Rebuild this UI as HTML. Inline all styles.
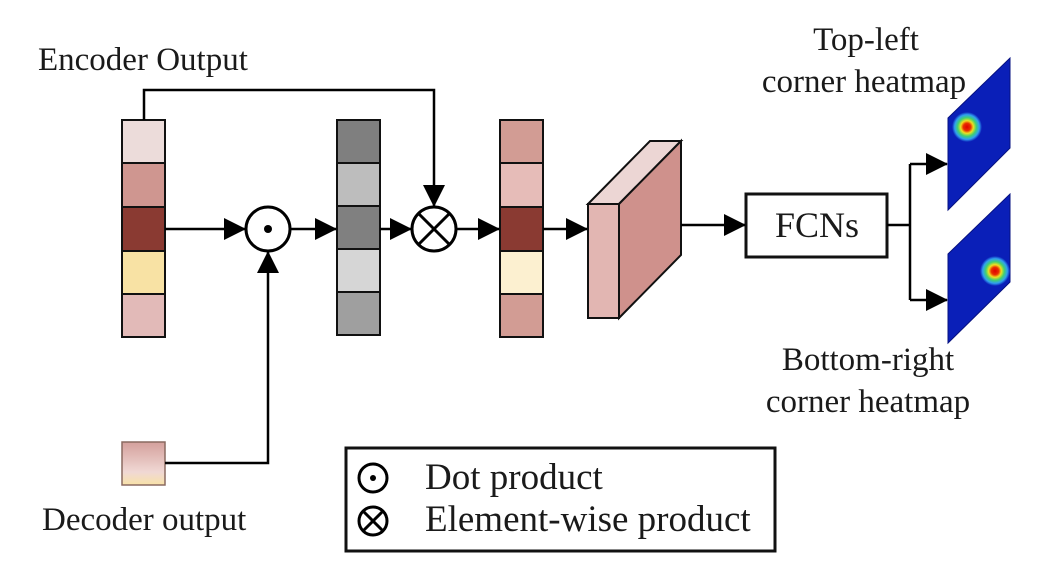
<!DOCTYPE html>
<html><head><meta charset="utf-8"><style>
html,body{margin:0;padding:0;background:#fff;width:1050px;height:570px;overflow:hidden}
text{font-family:"Liberation Serif",serif;fill:#1a1a1a}
</style></head><body>
<svg width="1050" height="570" viewBox="0 0 1050 570" xmlns="http://www.w3.org/2000/svg">
<defs>
<marker id="a" markerWidth="22" markerHeight="22" refX="21" refY="11" orient="auto" markerUnits="userSpaceOnUse" viewBox="0 0 22 22"><path d="M0,0 L22,11 L0,22z" fill="#000"/></marker>
<linearGradient id="dg" x1="0" y1="0" x2="0" y2="1"><stop offset="0" stop-color="#d4a09c"/><stop offset="0.7" stop-color="#f0d8d4"/><stop offset="1" stop-color="#f8e2a8"/></linearGradient>
<radialGradient id="blob"><stop offset="0" stop-color="#e00000"/><stop offset="0.25" stop-color="#e83000"/><stop offset="0.42" stop-color="#f0e020"/><stop offset="0.62" stop-color="#40d070"/><stop offset="0.82" stop-color="#30a0f0"/><stop offset="1" stop-color="#0a1fb8"/></radialGradient>
</defs>
<g stroke="#111" stroke-width="2">
<rect x="122" y="120" width="43" height="43" fill="#ecdcda"/>
<rect x="122" y="163" width="43" height="44" fill="#cf9690"/>
<rect x="122" y="207" width="43" height="44" fill="#8a3a32"/>
<rect x="122" y="251" width="43" height="43" fill="#f8e2a4"/>
<rect x="122" y="294" width="43" height="43" fill="#e2bab8"/>
<rect x="337" y="120" width="43" height="43" fill="#7f7f7f"/>
<rect x="337" y="163" width="43" height="43" fill="#bdbdbd"/>
<rect x="337" y="206" width="43" height="43" fill="#808080"/>
<rect x="337" y="249" width="43" height="43" fill="#d6d6d6"/>
<rect x="337" y="292" width="43" height="43" fill="#9f9f9f"/>
<rect x="500" y="120" width="43" height="43" fill="#d29c94"/>
<rect x="500" y="163" width="43" height="44" fill="#e6bcb8"/>
<rect x="500" y="207" width="43" height="44" fill="#8a3a32"/>
<rect x="500" y="251" width="43" height="43" fill="#fcf0d0"/>
<rect x="500" y="294" width="43" height="43" fill="#d29c94"/>
<polygon points="588,204 650,141 681,141 619,204" fill="#ecd6d4"/>
<polygon points="619,204 681,141 681,255 619,318" fill="#cf918c"/>
<rect x="588" y="204" width="31" height="114" fill="#e2b6b2"/>
<rect x="746" y="194" width="141" height="63" fill="#fff" stroke-width="3"/>
<rect x="346" y="448" width="429" height="103" fill="#fff" stroke-width="3"/>
<rect x="122" y="442" width="43" height="43" fill="url(#dg)" stroke="#8a6a60" stroke-width="1.5"/>
</g>
<g stroke="#000" stroke-width="2.5" fill="none">
<polyline points="144,120 144,90 434,90 434,206" marker-end="url(#a)"/>
<line x1="165" y1="229" x2="245" y2="229" marker-end="url(#a)"/>
<polyline points="165,463 268,463 268,252" marker-end="url(#a)"/>
<line x1="291" y1="229" x2="336" y2="229" marker-end="url(#a)"/>
<line x1="380" y1="229" x2="411" y2="229" marker-end="url(#a)"/>
<line x1="457" y1="229" x2="499" y2="229" marker-end="url(#a)"/>
<line x1="543" y1="229" x2="587" y2="229" marker-end="url(#a)"/>
<line x1="681" y1="225" x2="745" y2="225" marker-end="url(#a)"/>
<line x1="887" y1="225" x2="910" y2="225"/>
<polyline points="910,164 910,300"/>
<line x1="910" y1="164" x2="947" y2="164" marker-end="url(#a)"/>
<line x1="910" y1="300" x2="947" y2="300" marker-end="url(#a)"/>
<circle cx="268" cy="229" r="22" fill="#fff" stroke-width="3"/>
<circle cx="434" cy="229" r="22" fill="#fff" stroke-width="3"/>
<line x1="419" y1="214" x2="449" y2="244" stroke-width="3"/>
<line x1="449" y1="214" x2="419" y2="244" stroke-width="3"/>
<circle cx="373" cy="478" r="14" fill="#fff" stroke-width="3"/>
<circle cx="373" cy="521" r="14" fill="#fff" stroke-width="3"/>
<line x1="363" y1="511" x2="383" y2="531" stroke-width="3"/>
<line x1="383" y1="511" x2="363" y2="531" stroke-width="3"/>
</g>
<circle cx="268" cy="229" r="4" fill="#000"/>
<circle cx="373" cy="478" r="3" fill="#000"/>
<polygon points="948,118 1010,58 1010,148 948,210" fill="#0a1fb8" stroke="#061080" stroke-width="1"/>
<circle cx="967" cy="127" r="15" fill="url(#blob)"/>
<polygon points="948,254 1010,194 1010,282 948,343" fill="#0a1fb8" stroke="#061080" stroke-width="1"/>
<circle cx="995" cy="271" r="15" fill="url(#blob)"/>
<text x="38" y="70" font-size="33">Encoder Output</text>
<text x="817" y="237" font-size="36" text-anchor="middle">FCNs</text>
<text x="866" y="50" font-size="33" text-anchor="middle">Top-left</text>
<text x="864" y="92" font-size="33" text-anchor="middle">corner heatmap</text>
<text x="868" y="370" font-size="33" text-anchor="middle">Bottom-right</text>
<text x="868" y="412" font-size="33" text-anchor="middle">corner heatmap</text>
<text x="42" y="530" font-size="33">Decoder output</text>
<text x="425" y="489" font-size="37">Dot product</text>
<text x="425" y="531" font-size="37">Element-wise product</text>
</svg>
</body></html>
